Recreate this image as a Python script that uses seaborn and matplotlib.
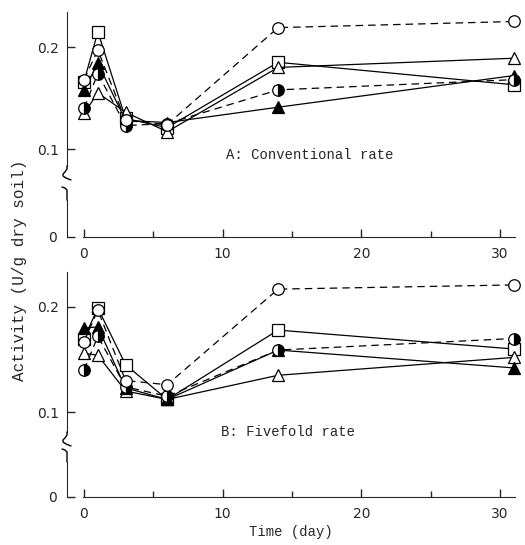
import matplotlib
matplotlib.use("Agg")
import matplotlib.pyplot as plt
import seaborn as sns
import numpy as np
from matplotlib.lines import Line2D

days = [0, 1, 3, 6, 14, 31]

# panel A: conventional rate
a_circle = [0.168, 0.197, 0.128, 0.124, 0.219, 0.225]
a_square = [0.166, 0.215, 0.130, 0.121, 0.185, 0.163]
a_tri_open = [0.135, 0.155, 0.136, 0.117, 0.180, 0.189]
a_tri_filled = [0.158, 0.184, 0.128, 0.126, 0.141, 0.172]
a_half = [0.140, 0.174, 0.123, 0.125, 0.158, 0.168]

# panel B: fivefold rate
b_circle = [0.167, 0.197, 0.130, 0.126, 0.217, 0.221]
b_square = [0.170, 0.199, 0.145, 0.112, 0.178, 0.160]
b_tri_filled = [0.180, 0.181, 0.123, 0.112, 0.159, 0.142]
b_tri_open = [0.156, 0.154, 0.120, 0.112, 0.135, 0.152]
b_half = [0.140, 0.172, 0.124, 0.115, 0.159, 0.170]

x_ticks = [0, 10, 20, 30]
y_ticks = [0.1, 0.2]

sns.set_style("ticks")
plt.rcParams['font.family'] = ['DejaVu Sans']
mono = 'Liberation Mono'

W, H = 525, 545
fig = plt.figure(figsize=(W / 100, H / 100), dpi=100)


def box(left, right, top, bottom):
    return [left / W, 1 - bottom / H, (right - left) / W, (bottom - top) / H]


def styles():
    ms = 8.3
    return [
        dict(marker='s', markerfacecolor='white', linestyle='-', ms=ms),
        dict(marker='^', markerfacecolor='white', linestyle='-', ms=ms + 0.5),
        dict(marker='^', markerfacecolor='black', linestyle='-', ms=ms + 0.5),
        dict(marker='o', markerfacecolor='black', markerfacecoloralt='white',
             fillstyle='right', linestyle=(0, (6, 4)), ms=ms),
        dict(marker='o', markerfacecolor='white', linestyle=(0, (6, 4)), ms=ms),
    ]


def curl(x_px, y_px, pts):
    # break mark drawn next to the y axis, offsets in pixels (down is +)
    xs = np.array([x_px + p[0] for p in pts])
    ys = np.array([y_px + p[1] for p in pts])
    fig.add_artist(Line2D(xs / W, 1 - ys / H, transform=fig.transFigure,
                          color='black', lw=1.0, solid_capstyle='round'))


end_curl = [(0, 0), (0, 3), (-2, 6), (-4, 8), (-4, 10), (-1, 12), (4, 14)]
start_curl = [(-5, -13), (-2, -12), (0, -10), (0, -6), (0, 0)]

xlim = (-1.225, 31.3)


def panel(tops, series, label, label_pos):
    up_top, up_bot, lo_top, lo_bot, y_at_top, y_at_bot = tops
    ax = fig.add_axes(box(67, 518, up_top, up_bot))
    lo = fig.add_axes(box(67, 518, lo_top, lo_bot))
    for vals, st in zip(series, styles()):
        sns.lineplot(x=days, y=vals, ax=ax, color='black', lw=0.9,
                     markeredgecolor='black', markeredgewidth=0.9,
                     errorbar=None, clip_on=False, **st)
    ax.set_xlim(xlim)
    ax.set_ylim(y_at_bot, y_at_top)
    ax.set_yticks(y_ticks)
    ax.set_yticklabels(['0.1', '0.2'])
    ax.set_xticks([])
    for s in ['top', 'right', 'bottom']:
        ax.spines[s].set_visible(False)
    ax.tick_params(axis='y', direction='in', length=6, width=1.0, pad=6,
                   labelsize=10)
    ax.set_xlabel('')
    ax.set_ylabel('')
    ax.patch.set_alpha(0)

    lo.set_xlim(xlim)
    lo.set_ylim(0, 0.05)
    lo.set_yticks([0])
    lo.set_yticklabels(['0'])
    lo.set_xticks(x_ticks)
    lo.set_xticks([5, 15, 25], minor=True)
    lo.set_xticklabels([str(v) for v in x_ticks])
    for s in ['top', 'right']:
        lo.spines[s].set_visible(False)
    lo.spines['bottom'].set_bounds(-0.1, 31.1)
    lo.tick_params(axis='both', direction='in', length=6, width=1.0, pad=7,
                   labelsize=10)
    lo.tick_params(axis='x', which='minor', direction='in', length=4, width=1.0)
    lo.patch.set_alpha(0)

    curl(67, up_bot, end_curl)
    curl(67, lo_top, start_curl)

    ax.text(label_pos[0], label_pos[1], label, transform=ax.transAxes,
            ha='center', va='center', fontsize=10, family=mono, clip_on=False)
    return ax, lo


series_a = [a_square, a_tri_open, a_tri_filled, a_half, a_circle]
series_b = [b_square, b_tri_open, b_tri_filled, b_half, b_circle]

panel((12, 166, 200, 237, 0.2343, 0.0834), series_a,
      'A: Conventional rate', ((310 - 67) / 451, (166 - 155) / 154))
panel((272, 432, 462, 497, 0.2333, 0.081), series_b,
      'B: Fivefold rate', ((288 - 67) / 451, (432 - 432) / 160))

fig.text(20 / W, 1 - 270 / H, 'Activity (U/g dry soil)', rotation=90,
         ha='center', va='center', fontsize=11.5, family=mono)
fig.text(291 / W, 1 - 532 / H, 'Time (day)', ha='center', va='center',
         fontsize=10, family=mono)

fig.savefig('out.png', dpi=100)
